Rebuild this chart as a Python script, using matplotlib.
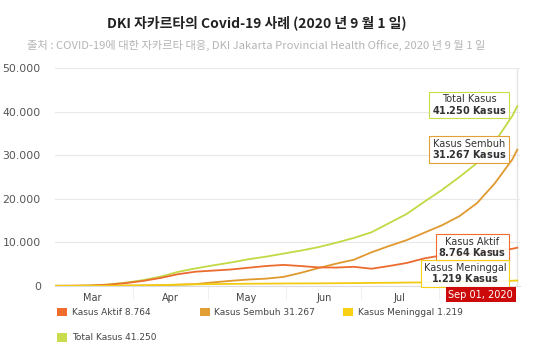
import numpy as np
import matplotlib
matplotlib.use('Agg')
from matplotlib import pyplot as plt
from matplotlib.patches import Patch

# data (roughly weekly)
tanggal = np.array(['2020-03-01', '2020-03-08', '2020-03-15', '2020-03-22', '2020-03-29',
                    '2020-04-05', '2020-04-12', '2020-04-19', '2020-04-26', '2020-05-03',
                    '2020-05-10', '2020-05-17', '2020-05-24', '2020-05-31', '2020-06-07',
                    '2020-06-14', '2020-06-21', '2020-06-28', '2020-07-05', '2020-07-12',
                    '2020-07-19', '2020-07-26', '2020-08-02', '2020-08-09', '2020-08-16',
                    '2020-08-23', '2020-08-30', '2020-09-01'], dtype='datetime64[D]')
total_kasus = [0, 20, 70, 300, 720, 1300, 2100, 3200, 4000, 4700, 5350, 6100, 6700, 7400,
               8100, 8900, 9900, 11000, 12300, 14400, 16500, 19300, 22000, 25000, 28200,
               33000, 39000, 41250]
kasus_sembuh = [0, 0, 3, 15, 40, 70, 130, 250, 400, 800, 1150, 1450, 1650, 2050, 3000, 4100,
                5100, 6000, 7700, 9150, 10500, 12200, 13900, 16000, 19000, 23500, 29000, 31267]
kasus_aktif = [0, 20, 60, 250, 610, 1120, 1800, 2670, 3250, 3500, 3750, 4150, 4550, 4810,
               4540, 4230, 4200, 4370, 3930, 4550, 5250, 6300, 7000, 7000, 7500, 8000, 8500, 8764]
kasus_meninggal = [0, 0, 7, 35, 70, 110, 170, 280, 350, 400, 450, 480, 510, 540, 560, 570,
                   600, 630, 670, 700, 750, 800, 850, 900, 950, 1050, 1170, 1219]

nama_seri = ['Kasus Aktif', 'Kasus Sembuh', 'Kasus Meninggal', 'Total Kasus']
nilai_akhir = ['8.764', '31.267', '1.219', '41.250']
warna_garis = ['#EC6B2E', '#E0992E', '#F2CB12', '#C2D944']
warna_legenda = ['#EE6C2C', '#E29F33', '#F7CF14', '#CADB4C']
y_ticks = [0, 10000, 20000, 30000, 40000, 50000]
y_labels = ['0', '10.000', '20.000', '30.000', '40.000', '50.000']
bulan = ['Mar', 'Apr', 'May', 'Jun', 'Jul']
posisi_bulan = np.array(['2020-03-16', '2020-04-16', '2020-05-16', '2020-06-16', '2020-07-16'],
                        dtype='datetime64[D]')
batas_bulan = np.array(['2020-04-01', '2020-05-01', '2020-06-01', '2020-07-01', '2020-08-01'],
                       dtype='datetime64[D]')

fig = plt.figure(figsize=(5.37, 3.6), dpi=100)
ax = fig.add_axes([0.102, 0.206, 0.866, 0.605])

seri = [kasus_aktif, kasus_sembuh, kasus_meninggal, total_kasus]
for i in [3, 1, 0, 2]:
    ax.plot(tanggal, seri[i], color=warna_garis[i], lw=1.3, zorder=3)

ax.set_xlim(np.datetime64('2020-03-01'), np.datetime64('2020-09-02'))
ax.set_ylim(0, 50000)
ax.set_yticks(y_ticks)
ax.set_yticklabels(y_labels)
ax.set_xticks(posisi_bulan)
ax.set_xticklabels(bulan)
ax.set_xticks(batas_bulan, minor=True)
ax.tick_params(axis='x', which='major', length=0, labelsize=7, colors='#444444', pad=5)
ax.tick_params(axis='x', which='minor', length=9, color='#eeeeee')
ax.tick_params(axis='y', length=0, labelsize=7.8, colors='#555555', pad=10)
ax.grid(axis='y', color='#e8e8e8', lw=0.8)
for s in ['top', 'right', 'left']:
    ax.spines[s].set_visible(False)
ax.spines['bottom'].set_color('#dddddd')

akhir = tanggal[-1]
ax.axvline(akhir, color='#e4e4e4', lw=1, zorder=1)

# kotak keterangan di ujung garis
geser_y = [0, 0, 5, 1]
for i in [3, 1, 0, 2]:
    teks = nama_seri[i] + '\n' + r'$\bf{' + nilai_akhir[i] + r'\ Kasus}$'
    ax.annotate(teks, xy=(akhir, seri[i][-1]), xytext=(-8, geser_y[i]),
                textcoords='offset points', ha='right', va='center', fontsize=7,
                color='#333333', linespacing=0.95, multialignment='center',
                bbox=dict(boxstyle='square,pad=0.25', fc=(1, 1, 1, 0.9),
                          ec=warna_legenda[i], lw=0.8), zorder=5)

ax.annotate('Sep 01, 2020', xy=(akhir, 0), xycoords=('data', 'axes fraction'),
            xytext=(-3, -6.5), textcoords='offset points', ha='right', va='center',
            fontsize=7, color='white',
            bbox=dict(boxstyle='square,pad=0.25', fc='#CC0A0A', ec='none'), zorder=6)

fig.text(0.478, 0.937, 'DKI 자카르타의 Covid-19 사례 (2020 년 9 월 1 일)', ha='center', va='center',
         fontsize=10, fontweight='bold', color='#222222',
         family=['Noto Sans CJK KR', 'DejaVu Sans'])
fig.text(0.478, 0.874, '출처 : COVID-19에 대한 자카르타 대응, DKI Jakarta Provincial Health Office, 2020 년 9 월 1 일',
         ha='center', va='center', fontsize=8.1, color='#b5b5b5',
         family=['Noto Sans CJK KR', 'DejaVu Sans'])

# legenda: baris 1 aktif, sembuh, meninggal; baris 2 total
posisi_legenda = [(0.098, 0.132), (0.364, 0.132), (0.631, 0.132), (0.098, 0.062)]
for i, pos in enumerate(posisi_legenda):
    fig.legend([Patch(facecolor=warna_legenda[i], edgecolor='none')],
               [nama_seri[i] + ' ' + nilai_akhir[i]], loc='center left', bbox_to_anchor=pos,
               frameon=False, fontsize=6.5, handlelength=1.1, handleheight=1.1,
               handletextpad=0.5, borderpad=0, labelcolor='#444444')

fig.savefig('out.png', dpi=100)
